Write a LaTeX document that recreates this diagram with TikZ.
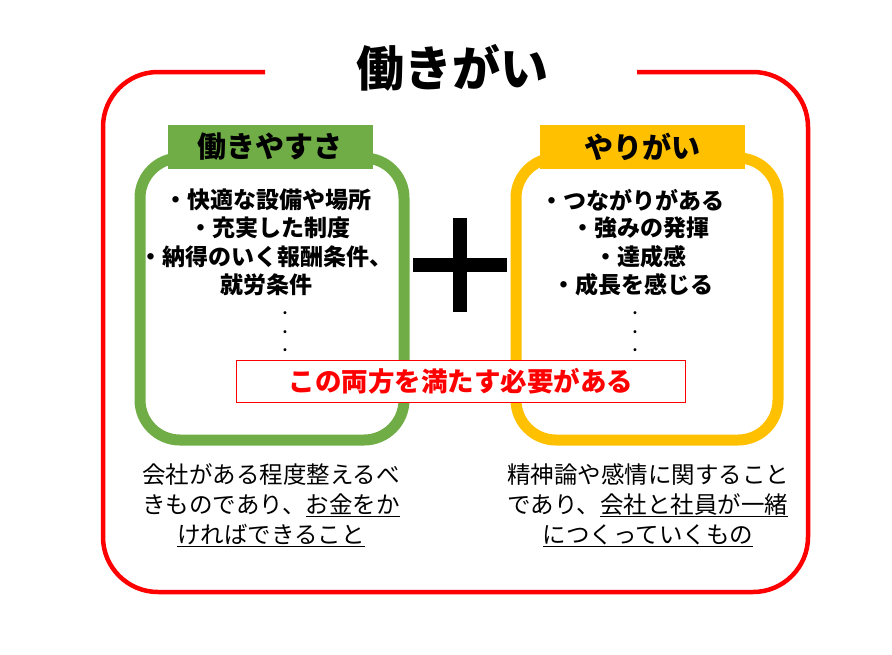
\documentclass[tikz,border=0pt]{standalone}
\usepackage{fontspec}
\setmainfont{Noto Sans CJK JP}
\usepackage{tikz}
\usetikzlibrary{positioning}
\definecolor{okgreen}{HTML}{70AD47}
\definecolor{okyellow}{HTML}{FFC000}
\definecolor{okred}{HTML}{FF0000}
\tikzset{
  jar/.style={line width=11pt, rounded corners=40pt},
  tag/.style={minimum width=205pt, minimum height=44pt, inner sep=0pt, font=\fontsize{29}{32}\selectfont\bfseries},
  item/.style={font=\fontsize{23}{26}\selectfont\bfseries, inner sep=0pt},
  note/.style={font=\fontsize{23.5}{30}\selectfont, align=center, inner sep=0pt},
  dot/.style={font=\fontsize{14}{14}\selectfont\bfseries, inner sep=0pt}
}
\begin{document}
\begin{tikzpicture}[x=1pt,y=-1pt]
  \useasboundingbox (0,0) rectangle (892,654);
  % outer frame
  \draw[okred, line width=4.5pt, rounded corners=55pt]
    (265,72) -- (103,72) -- (103,592) -- (808,592) -- (808,72) -- (637,72);
  \node[font=\fontsize{48}{52}\selectfont\bfseries] (title) at (452,68) {働きがい};
  % left and right jars
  \draw[okgreen, jar] (140,158) rectangle (404,440);
  \draw[okyellow, jar] (516,158) rectangle (778,440);
  \node[tag, fill=okgreen] (easy) at (270,147) {働きやすさ};
  \node[tag, fill=okyellow] (worth) at (642,147) {やりがい};
  % plus
  \fill (413,258) rectangle (507,272);
  \fill (453,218) rectangle (467,312);
  % left items
  \node[item] (l1) at (268,200) {・快適な設備や場所};
  \node[item] (l2) at (270,228) {・充実した制度};
  \node[item] (l3) at (266,257) {・納得のいく報酬条件、};
  \node[item] (l4) at (266,285) {就労条件};
  \foreach \y in {313,332,350} \node[dot] at (285,\y) {.};
  % right items
  \node[item] (r1) at (632,200) {・つながりがある};
  \node[item] (r2) at (640,228) {・強みの発揮};
  \node[item] (r3) at (640,257) {・達成感};
  \node[item] (r4) at (633,285) {・成長を感じる};
  \foreach \y in {313,332,350} \node[dot] at (635,\y) {.};
  % both needed
  \node[draw=okred, fill=white, line width=0.8pt, minimum width=449pt, minimum height=42pt,
    text=okred, font=\fontsize{26.5}{28}\selectfont\bfseries] (both) at (461,381) {この両方を満たす必要がある};
  % notes
  \node[note] (lnote) at (271,505) {会社がある程度整えるべ\\きものであり、\underline{お金をか}\\\underline{ければできること}};
  \node[note] (rnote) at (648,505) {精神論や感情に関すること\\であり、\underline{会社と社員が一緒}\\\underline{につくっていくもの}};
\end{tikzpicture}
\end{document}
